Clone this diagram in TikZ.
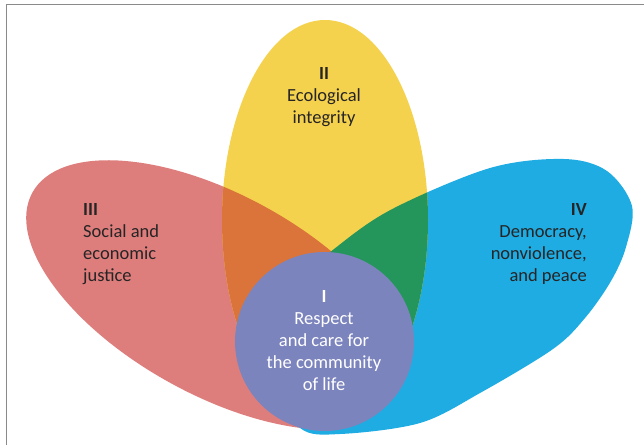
\documentclass[tikz,border=0pt]{standalone}
\usepackage{fontspec}
\setmainfont{Carlito}
\definecolor{petalred}{HTML}{DE7E7C}
\definecolor{petalyellow}{HTML}{F5D24E}
\definecolor{petalblue}{HTML}{1EACE2}
\definecolor{petalorange}{HTML}{DA743A}
\definecolor{petalgreen}{HTML}{25965B}
\definecolor{corepurple}{HTML}{7C84BD}
\definecolor{txtdark}{HTML}{262425}
\definecolor{framegray}{HTML}{8A8A8A}

\def\redpetal{(218,295) ellipse [x radius=212, y radius=100, rotate=-28.9]}
\def\bluepetal{plot[smooth cycle, tension=0.55] coordinates {(331.5,251) (391.5,209.4) (490,168) (564,159) (607,171) (632,206) (626,247) (611,281) (585,318) (553,349) (480,393) (420,423) (340,434) (300,428) (268,380) (275,300)}}
\def\yellowpetal{(325,220) ellipse [x radius=103, y radius=200]}

\tikzset{
  petaltext/.style={inner sep=0pt, font=\fontsize{18.5}{22}\selectfont, text=txtdark}
}

\begin{document}
\begin{tikzpicture}[x=1pt, y=-1pt]
  \useasboundingbox (0,0) rectangle (644,445);
  \fill[white] (0,0) rectangle (644,445);
  \draw[framegray, line width=1.3pt] (6.5,445) -- (6.5,4.5) -- (644,4.5);

  \fill[petalred] \redpetal;
  \fill[petalblue] \bluepetal;
  \fill[petalyellow] \yellowpetal;
  \begin{scope}
    \clip \redpetal;
    \fill[petalorange] \yellowpetal;
  \end{scope}
  \begin{scope}
    \clip \bluepetal;
    \fill[petalgreen] \yellowpetal;
  \end{scope}
  \fill[corepurple] (324.5,341.5) circle [radius=89.5];

  \node[petaltext, anchor=north, align=center] (II) at (324,67) {\textbf{II}\\Ecological\\integrity};
  \node[petaltext, anchor=north west, align=left] (III) at (83,203) {\textbf{III}\\Social and\\economic\\justice};
  \node[petaltext, anchor=north east, align=right] (IV) at (587,203) {\textbf{IV}\\Democracy,\\nonviolence,\\and peace};
  \node[petaltext, anchor=north, align=center, text=white] (I) at (324,290) {\textbf{I}\\Respect\\and care for\\the community\\of life};
\end{tikzpicture}
\end{document}
